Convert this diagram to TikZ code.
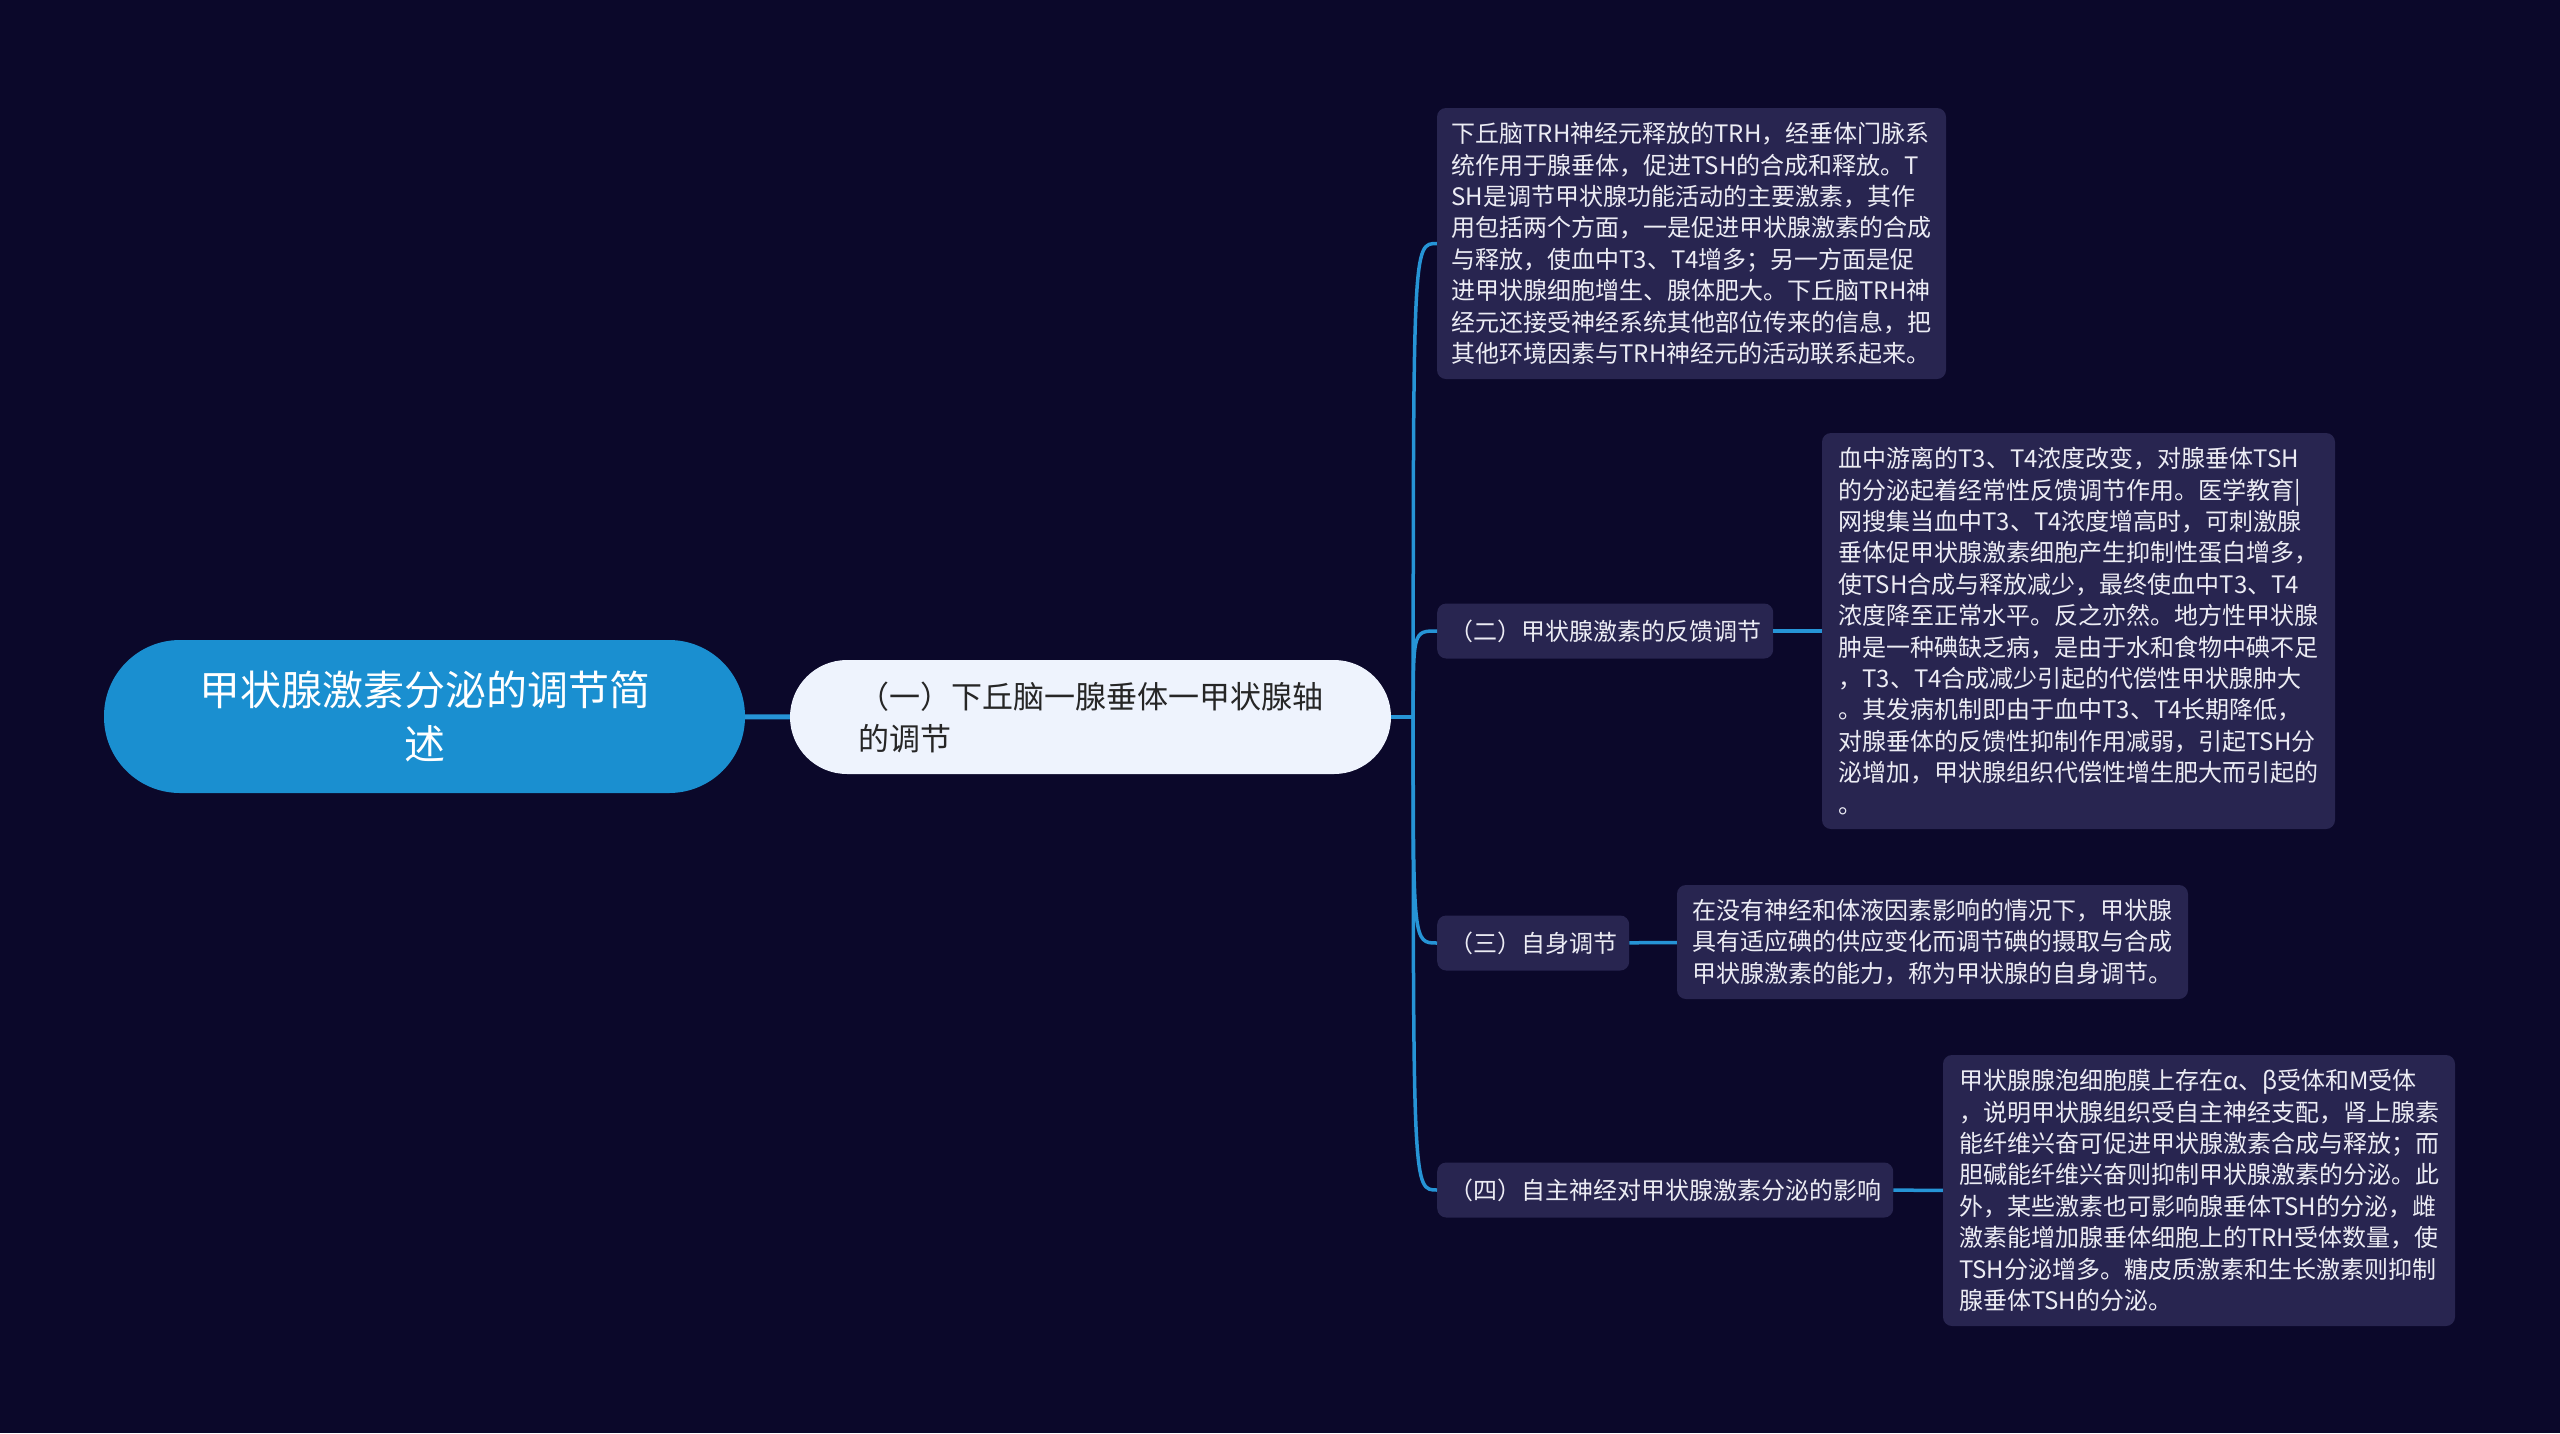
\documentclass[tikz,border=0pt]{standalone}
\usepackage{fontspec}
\setmainfont{Noto Sans CJK SC}
\usepackage{xcolor}
\definecolor{bgnavy}{RGB}{11,8,42}
\definecolor{rootblue}{RGB}{26,143,208}
\definecolor{paleblue}{RGB}{238,243,253}
\definecolor{boxpurple}{RGB}{40,37,80}
\definecolor{linkblue}{RGB}{38,148,214}
\definecolor{softwhite}{RGB}{236,236,244}
\usetikzlibrary{calc}

\begin{document}
\begin{tikzpicture}[x=1pt, y=-1pt,
        root/.style={fill=rootblue, rounded corners=76pt, minimum width=641pt,
                     minimum height=153pt, align=center, text=white,
                     font=\fontsize{41}{54}\selectfont},
        axis/.style={fill=paleblue, rounded corners=57pt, minimum width=601pt,
                     minimum height=114pt, align=left, text=black!85,
                     font=\fontsize{31}{42}\selectfont},
        topic/.style={fill=boxpurple, rounded corners=9pt, minimum height=55pt,
                      inner xsep=12pt, text=softwhite, font=\fontsize{24}{31.4}\selectfont},
        detail/.style={fill=boxpurple, rounded corners=9pt, align=left,
                       text=softwhite, font=\fontsize{24}{31.4}\selectfont},
        link/.style={draw=linkblue, line width=3.5pt}
      ]
        \fill[bgnavy] (0,0) rectangle (2560,1433);
        \useasboundingbox (0,0) rectangle (2560,1433);

        \node[root] (root) at (424.5,716.5) {甲状腺激素分泌的调节简\\述};
        \node[axis] (axis) at (1090.5,717) {（一）下丘脑一腺垂体一甲状腺轴\\的调节};

        \node[detail, minimum width=509pt, minimum height=271pt] (trh) at (1691.5,243.5)
          {下丘脑TRH神经元释放的TRH，经垂体门脉系\\
           统作用于腺垂体，促进TSH的合成和释放。T\\
           SH是调节甲状腺功能活动的主要激素，其作\\
           用包括两个方面，一是促进甲状腺激素的合成\\
           与释放，使血中T3、T4增多；另一方面是促\\
           进甲状腺细胞增生、腺体肥大。下丘脑TRH神\\
           经元还接受神经系统其他部位传来的信息，把\\
           其他环境因素与TRH神经元的活动联系起来。};

        \node[topic, anchor=west] (feedback) at (1437,631) {（二）甲状腺激素的反馈调节};
        \node[detail, minimum width=513pt, minimum height=396pt] (feedbacktxt) at (2078.5,631)
          {血中游离的T3、T4浓度改变，对腺垂体TSH\\
           的分泌起着经常性反馈调节作用。医学教育|\\
           网搜集当血中T3、T4浓度增高时，可刺激腺\\
           垂体促甲状腺激素细胞产生抑制性蛋白增多，\\
           使TSH合成与释放减少，最终使血中T3、T4\\
           浓度降至正常水平。反之亦然。地方性甲状腺\\
           肿是一种碘缺乏病，是由于水和食物中碘不足\\
           ，T3、T4合成减少引起的代偿性甲状腺肿大\\
           。其发病机制即由于血中T3、T4长期降低，\\
           对腺垂体的反馈性抑制作用减弱，引起TSH分\\
           泌增加，甲状腺组织代偿性增生肥大而引起的\\
           。};

        \node[topic, anchor=west] (self) at (1437,943) {（三）自身调节};
        \node[detail, minimum width=511pt, minimum height=114pt] (selftxt) at (1932.5,942)
          {在没有神经和体液因素影响的情况下，甲状腺\\
           具有适应碘的供应变化而调节碘的摄取与合成\\
           甲状腺激素的能力，称为甲状腺的自身调节。};

        \node[topic, anchor=west] (nerve) at (1437,1190) {（四）自主神经对甲状腺激素分泌的影响};
        \node[detail, minimum width=512pt, minimum height=271pt] (nervetxt) at (2199,1190.5)
          {甲状腺腺泡细胞膜上存在α、β受体和M受体\\
           ，说明甲状腺组织受自主神经支配，肾上腺素\\
           能纤维兴奋可促进甲状腺激素合成与释放；而\\
           胆碱能纤维兴奋则抑制甲状腺激素的分泌。此\\
           外，某些激素也可影响腺垂体TSH的分泌，雌\\
           激素能增加腺垂体细胞上的TRH受体数量，使\\
           TSH分泌增多。糖皮质激素和生长激素则抑制\\
           腺垂体TSH的分泌。};

        \coordinate (hub) at ($(axis.east)+(22,0)$);
        \draw[link, line width=5pt] (root) -- (axis);
        \draw[link] (axis.east) -- (hub);
        \foreach \kid in {trh, feedback, self, nerve}
          \draw[link] (hub) .. controls (hub |- \kid.west) .. (\kid.west);
        \draw[link] (feedback) -- (feedbacktxt);
        \draw[link] (self) -- (selftxt);
        \draw[link] (nerve) -- (nervetxt);
      \end{tikzpicture}
\end{document}
